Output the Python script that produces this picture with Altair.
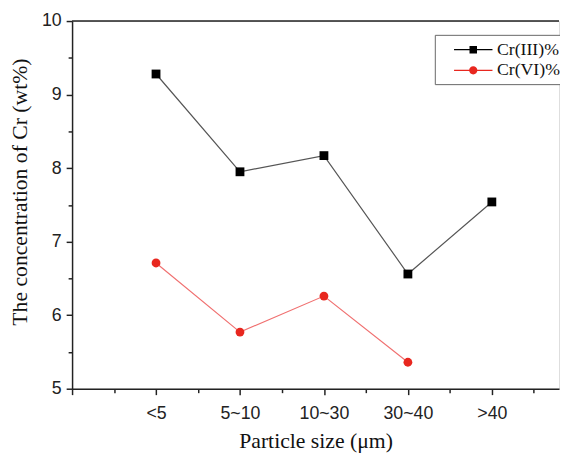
import json
import altair as alt
import pandas as pd

# ---- data ----
categories = ["<5", "5~10", "10~30", "30~40", ">40"]
cr3 = [9.28, 7.95, 8.17, 6.56, 7.54]
cr6 = [6.71, 5.77, 6.26, 5.36, None]
series_names = ["Cr(III)%", "Cr(VI)%"]
y_ticks = [5, 5.5, 6, 6.5, 7, 7.5, 8, 8.5, 9, 9.5, 10]
x_ticks = [0, 0.5, 1, 1.5, 2, 2.5, 3, 3.5, 4, 4.5, 5, 5.5]

rows = []
for i, cat in enumerate(categories):
    for name, vals in zip(series_names, [cr3, cr6]):
        if vals[i] is not None:
            rows.append({"pos": i + 1, "cat": cat, "series": name, "value": vals[i]})
df = pd.DataFrame(rows)
top_df = pd.DataFrame({"value": [y_ticks[-1]]})

SANS = "Liberation Sans"
SERIF = "Liberation Serif"
AX = "#222222"

label_arr = json.dumps([""] + categories)
x_axis = alt.Axis(
    values=x_ticks,
    labelExpr=f"datum.value % 1 === 0 ? {label_arr}[datum.value] : ''",
    tickSize={"condition": {"test": "datum.value % 1 !== 0", "value": 4}, "value": 6},
    labelFont=SANS, labelFontSize=18, labelColor="#222", labelPadding=10,
    labelOverlap=False,
    title="Particle size (μm)", titleFont=SERIF, titleFontSize=22,
    titleFontWeight="normal", titleColor="#111", titlePadding=9,
    grid=False, domainColor=AX, domainWidth=1.5, tickColor=AX, tickWidth=1.5,
)
y_axis = alt.Axis(
    values=y_ticks,
    labelExpr="datum.value % 1 === 0 ? format(datum.value, 'd') : ''",
    tickSize={"condition": {"test": "datum.value % 1 !== 0", "value": 4}, "value": 6},
    labelFont=SANS, labelFontSize=18, labelColor="#222", labelPadding=5,
    labelOverlap=False,
    title="The concentration of Cr (wt%)", titleFont=SERIF, titleFontSize=22,
    titleFontWeight="normal", titleColor="#111", titleX=-41, titleY=173,
    grid=False, domainColor=AX, domainWidth=1.5, tickColor=AX, tickWidth=1.5,
)

X = alt.X("pos:Q", scale=alt.Scale(domain=[0, 5.8], nice=False, zero=False), axis=x_axis)
Y = alt.Y("value:Q", scale=alt.Scale(domain=[5, 10], nice=False, zero=False), axis=y_axis)

base = alt.Chart(df)

lines = base.mark_line(strokeWidth=1.2).encode(
    x=X, y=Y,
    stroke=alt.Stroke("series:N", scale=alt.Scale(domain=series_names, range=["#555555", "#f07070"]), legend=None),
)

points = base.mark_point(filled=True, size=80, opacity=1).encode(
    x=X, y=Y,
    color=alt.Color("series:N", scale=alt.Scale(domain=series_names, range=["#000000", "#e8271f"]), legend=None),
    shape=alt.Shape("series:N", scale=alt.Scale(domain=series_names, range=["square", "circle"]), legend=None),
)

# legend symbols: a short line with the marker in the middle
sq_path = "M-1.95,-0.06H1.95V0.06H-1.95Z M-0.38,-0.38H0.38V0.38H-0.38Z"
ci_path = ("M-1.95,-0.06H1.95V0.06H-1.95Z "
           "M0.42,0A0.42,0.42 0 1,1 -0.42,0A0.42,0.42 0 1,1 0.42,0Z")
leg = alt.Legend(
    title=None, orient="none", legendX=368, legendY=14,
    strokeColor="#666666", fillColor="white", padding=5,
    labelFont=SERIF, labelFontSize=18, labelColor="#111", labelOffset=14,
    symbolSize=400, symbolOffset=24, symbolStrokeWidth=0, rowPadding=2,
)
legend_layer = base.transform_filter("false").mark_point(filled=True, opacity=1).encode(
    x=X, y=Y,
    color=alt.Color("series:N", scale=alt.Scale(domain=series_names, range=["#000000", "#e8271f"]), legend=leg),
    shape=alt.Shape("series:N", scale=alt.Scale(domain=series_names, range=[sq_path, ci_path]), legend=leg),
)

top_line = alt.Chart(top_df).mark_rule(color=AX, strokeWidth=1.5).encode(y=Y)

chart = alt.layer(lines, points, legend_layer, top_line).resolve_scale(
    shape="independent", color="independent"
).properties(
    width=560, height=447,
    autosize=alt.AutoSizeParams(type="fit", contains="padding"),
    padding={"left": 1, "top": 1, "right": 0, "bottom": 0},
).configure_view(stroke=None).configure(background="white")

chart.save("out.html", embed_options={"renderer": "svg", "actions": False})
